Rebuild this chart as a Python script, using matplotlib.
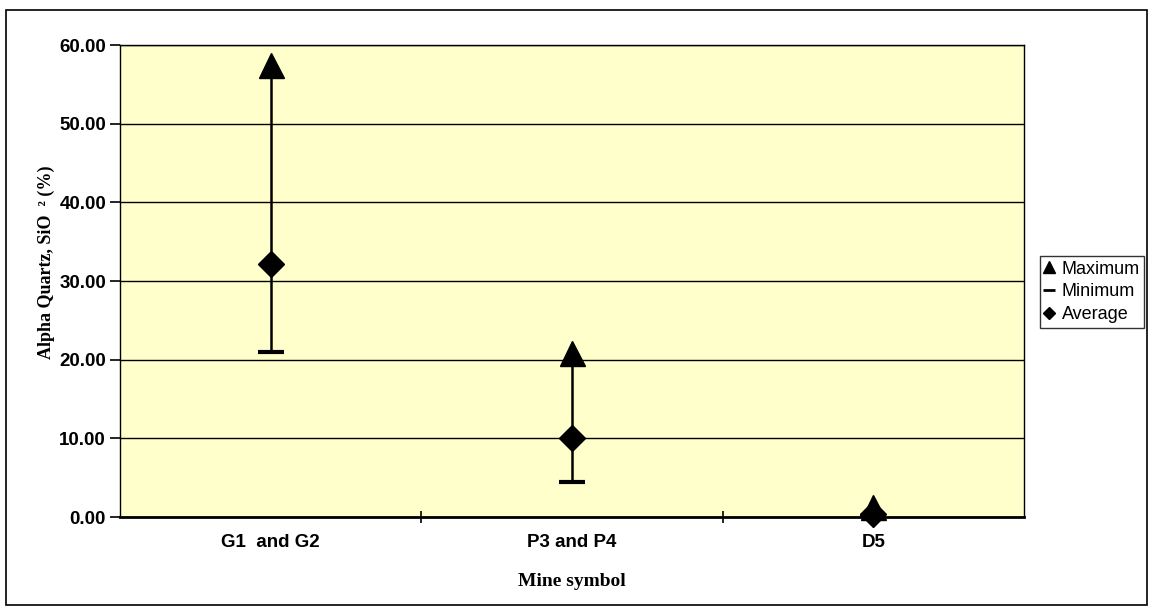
import numpy as np
import matplotlib.pyplot as plt
from matplotlib.patches import Rectangle
from matplotlib.lines import Line2D

# Alpha quartz content per mine group
mines = ["G1  and G2", "P3 and P4", "D5"]
max_vals = [57.4, 20.9, 1.3]
min_vals = [21.0, 4.5, 0.1]
avg_vals = [32.1, 10.0, 0.4]

fig = plt.figure(figsize=(11.53, 6.12), dpi=100)
ax = fig.add_axes([120 / 1153, 1 - 517 / 612, 904 / 1153, 472 / 612])
ax.set_facecolor("#FFFFCC")

x = np.arange(len(mines))

# high-low lines from minimum to maximum
ax.vlines(x, min_vals, max_vals, color="black", linewidth=1.8, zorder=3)
ax.plot(x, min_vals, linestyle="none", marker="_", markersize=19,
        markeredgewidth=3, color="black", zorder=4)
ax.plot(x, max_vals, linestyle="none", marker="^", markersize=18,
        color="black", zorder=4, clip_on=False)
ax.plot(x, avg_vals, linestyle="none", marker="D", markersize=13,
        color="black", zorder=5, clip_on=False)

ax.set_xlim(-0.5, 2.5)
ax.set_ylim(0, 60)
ax.set_yticks(np.arange(0, 61, 10))
ax.set_yticklabels([f"{v:.2f}" for v in np.arange(0, 61, 10)])
ax.yaxis.grid(True, color="black", linewidth=1.0)
ax.set_axisbelow(True)

ax.set_xticks(x)
ax.set_xticklabels(mines)
ax.set_xticks([0.5, 1.5], minor=True)
ax.tick_params(axis="x", which="major", length=0, pad=12)
ax.tick_params(axis="x", which="minor", direction="inout", length=9, width=1.2)
ax.tick_params(axis="y", direction="out", length=7, width=1.2, pad=3)
for lbl in ax.get_xticklabels() + ax.get_yticklabels():
    lbl.set_fontfamily("Liberation Sans")
    lbl.set_fontweight("bold")
    lbl.set_fontsize(13.5)

for side in ["left", "right", "top"]:
    ax.spines[side].set_linewidth(1.0)
ax.spines["bottom"].set_linewidth(2.0)

ax.set_xlabel("Mine symbol", fontfamily="Liberation Serif", fontweight="bold",
              fontsize=14)
ax.set_ylabel("Alpha Quartz, SiO  \u00b2 (%)", fontfamily="Liberation Serif",
              fontweight="bold", fontsize=13)
ax.xaxis.set_label_coords(0.5, -0.118)
ax.yaxis.set_label_coords(-0.072, 0.54)

handles = [
    Line2D([], [], linestyle="none", marker="^", markersize=8, color="black"),
    Line2D([], [], linestyle="none", marker="_", markersize=9,
           markeredgewidth=2, color="black"),
    Line2D([], [], linestyle="none", marker="D", markersize=6, color="black"),
]
leg = fig.legend(handles, ["Maximum", "Minimum", "Average"],
                 loc="upper left", bbox_to_anchor=(1040 / 1153, 1 - 256 / 612),
                 prop={"family": "Liberation Sans", "size": 13},
                 frameon=True, fancybox=False, handlelength=0.5,
                 handletextpad=0.45, borderpad=0.25, labelspacing=0.33,
                 borderaxespad=0)
leg.get_frame().set_edgecolor("black")
leg.get_frame().set_linewidth(1.0)

# outer chart border
fig.patches.append(Rectangle((6 / 1153, 1 - 605 / 612), 1141 / 1153, 595 / 612,
                             transform=fig.transFigure, fill=False,
                             edgecolor="black", linewidth=1.2))

fig.savefig("out.png", dpi=100)
